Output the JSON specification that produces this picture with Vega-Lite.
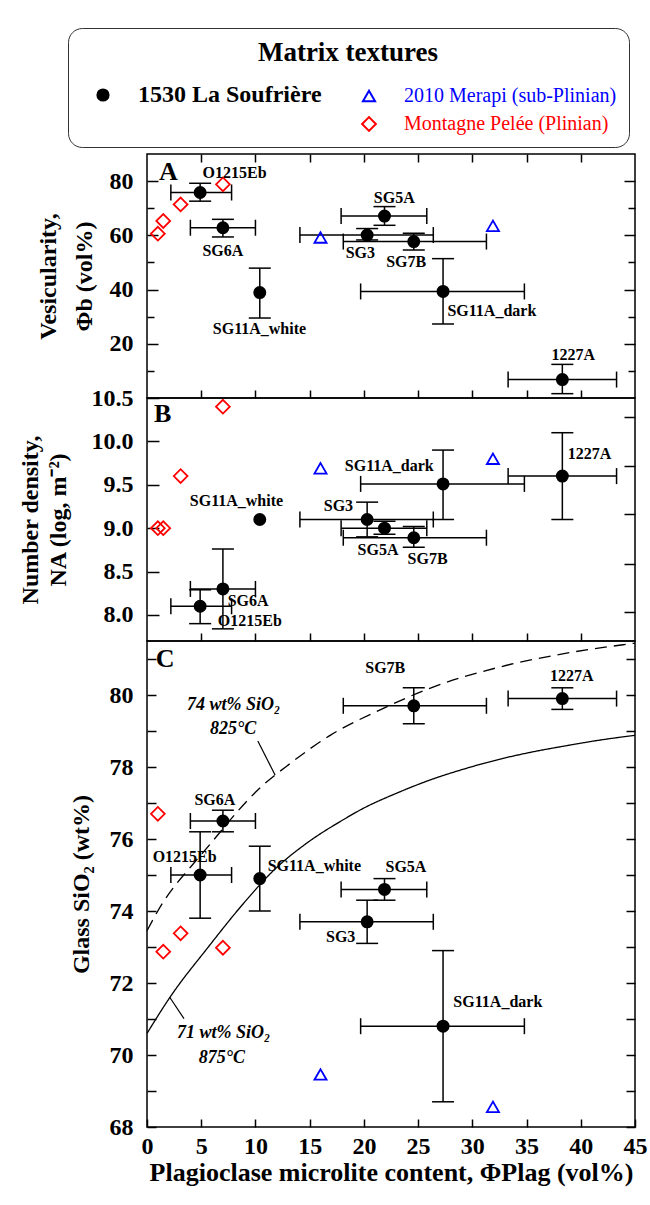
{
"$schema": "https://vega.github.io/schema/vega-lite/v6.json",
"background": "white",
"padding": {"left": 17, "top": 27, "right": 4, "bottom": 10},
"spacing": 0,
"bounds": "flush",
"config": {
  "font": "Liberation Serif",
  "view": {"stroke": "black", "strokeWidth": 1.5},
  "axis": {"grid": false, "domain": false, "tickColor": "black", "tickWidth": 1.5, "labelColor": "black", "titleColor": "black", "labelFont": "Liberation Serif", "titleFont": "Liberation Serif", "labelFontWeight": "bold", "titleFontWeight": "bold", "labelFontSize": 24, "titleFontSize": 24, "labelFlush": false, "labelOverlap": false, "labelBound": false},
  "legend": {"orient": "none", "direction": "horizontal", "columns": 2, "padding": 12, "strokeColor": "#333333", "cornerRadius": 14, "fillColor": "white", "titleFont": "Liberation Serif", "titleFontSize": 27, "titleFontWeight": "bold", "titleColor": "black", "titleAnchor": "middle", "titlePadding": 18, "titleLimit": 500, "labelFont": "Liberation Serif", "labelFontSize": 22, "labelColor": "black", "labelOffset": 25, "labelLimit": 400, "symbolOffset": 13, "symbolStrokeWidth": 2, "columnPadding": 24, "rowPadding": 6, "symbolOpacity": 1}
},
"datasets": {
 "pts": [
  {"group":"1530 La Soufrière","sample":"O1215Eb","x":4.9,"xlo":2.2,"xhi":7.8,"A":75.8,"Alo":72.6,"Ahi":79.2,"B":8.10,"Blo":7.90,"Bhi":8.29,"C":75.0,"Clo":73.8,"Chi":76.2},
  {"group":"1530 La Soufrière","sample":"SG6A","x":7.0,"xlo":4.0,"xhi":10.0,"A":62.8,"Alo":59.4,"Ahi":65.9,"B":8.30,"Blo":7.84,"Bhi":8.76,"C":76.5,"Clo":76.2,"Chi":76.8},
  {"group":"1530 La Soufrière","sample":"SG11A_white","x":10.4,"xlo":null,"xhi":null,"A":38.9,"Alo":29.5,"Ahi":47.9,"B":9.10,"Blo":null,"Bhi":null,"C":74.9,"Clo":74.0,"Chi":75.8},
  {"group":"1530 La Soufrière","sample":"SG3","x":20.3,"xlo":14.1,"xhi":26.4,"A":60.1,"Alo":58.3,"Ahi":62.5,"B":9.10,"Blo":8.90,"Bhi":9.30,"C":73.7,"Clo":73.1,"Chi":74.3},
  {"group":"1530 La Soufrière","sample":"SG5A","x":21.9,"xlo":17.9,"xhi":25.8,"A":67.1,"Alo":63.7,"Ahi":70.6,"B":9.00,"Blo":8.93,"Bhi":9.08,"C":74.6,"Clo":74.3,"Chi":74.9},
  {"group":"1530 La Soufrière","sample":"SG7B","x":24.6,"xlo":18.1,"xhi":31.3,"A":57.7,"Alo":54.6,"Ahi":60.8,"B":8.89,"Blo":8.78,"Bhi":9.02,"C":79.7,"Clo":79.2,"Chi":80.2},
  {"group":"1530 La Soufrière","sample":"SG11A_dark","x":27.3,"xlo":19.7,"xhi":34.8,"A":39.3,"Alo":27.3,"Ahi":51.4,"B":9.51,"Blo":9.10,"Bhi":9.90,"C":70.8,"Clo":68.7,"Chi":72.9},
  {"group":"1530 La Soufrière","sample":"1227A","x":38.3,"xlo":33.3,"xhi":43.3,"A":6.8,"Alo":1.6,"Ahi":12.4,"B":9.60,"Blo":9.10,"Bhi":10.10,"C":79.9,"Clo":79.6,"Chi":80.2},
  {"group":"2010 Merapi (sub-Plinian)","x":16.0,"A":59.2,"B":9.69,"C":69.46},
  {"group":"2010 Merapi (sub-Plinian)","x":31.9,"A":63.5,"B":9.80,"C":68.56},
  {"group":"Montagne Pelée (Plinian)","x":1.0,"A":60.6,"B":9.0,"C":76.7},
  {"group":"Montagne Pelée (Plinian)","x":1.5,"A":65.3,"B":9.0,"C":72.87},
  {"group":"Montagne Pelée (Plinian)","x":3.1,"A":71.4,"B":9.6,"C":73.38},
  {"group":"Montagne Pelée (Plinian)","x":7.0,"A":78.8,"B":10.4,"C":72.98}
 ],
 "labels": [
  {"p":"A","t":"O1215Eb","x":8.07,"y":83.0},
  {"p":"A","t":"SG6A","x":7.0,"y":54.3},
  {"p":"A","t":"SG11A_white","x":10.37,"y":25.5},
  {"p":"A","t":"SG5A","x":22.8,"y":73.9},
  {"p":"A","t":"SG3","x":19.67,"y":53.6},
  {"p":"A","t":"SG7B","x":23.9,"y":50.0},
  {"p":"A","t":"SG11A_dark","x":31.8,"y":32.2},
  {"p":"A","t":"1227A","x":39.3,"y":16.0},
  {"p":"B","t":"SG11A_dark","x":22.34,"y":9.72},
  {"p":"B","t":"1227A","x":40.8,"y":9.85},
  {"p":"B","t":"SG11A_white","x":8.25,"y":9.31},
  {"p":"B","t":"SG3","x":17.65,"y":9.25},
  {"p":"B","t":"SG5A","x":21.3,"y":8.75},
  {"p":"B","t":"SG7B","x":25.87,"y":8.65},
  {"p":"B","t":"SG6A","x":9.33,"y":8.16},
  {"p":"B","t":"O1215Eb","x":9.48,"y":7.93},
  {"p":"C","t":"SG7B","x":21.97,"y":80.74},
  {"p":"C","t":"1227A","x":39.16,"y":80.54},
  {"p":"C","t":"SG6A","x":6.26,"y":77.08},
  {"p":"C","t":"O1215Eb","x":3.47,"y":75.5},
  {"p":"C","t":"SG11A_white","x":15.43,"y":75.26},
  {"p":"C","t":"SG5A","x":23.88,"y":75.23},
  {"p":"C","t":"SG3","x":17.86,"y":73.28},
  {"p":"C","t":"SG11A_dark","x":32.35,"y":71.47}
 ],
 "letters": [
  {"p":"A","t":"A","x":1.1,"y":83.2},
  {"p":"B","t":"B","x":0.65,"y":10.31},
  {"p":"C","t":"C","x":0.8,"y":81.0}
 ],
 "curves": [
  {"s":"71","x":0.0,"v":70.6},
  {"s":"71","x":2.2,"v":71.64},
  {"s":"71","x":5.6,"v":72.98},
  {"s":"71","x":8.7,"v":74.14},
  {"s":"71","x":11.75,"v":75.15},
  {"s":"71","x":14.8,"v":75.9},
  {"s":"71","x":17.9,"v":76.5},
  {"s":"71","x":20.0,"v":76.86},
  {"s":"71","x":23.0,"v":77.27},
  {"s":"71","x":26.2,"v":77.65},
  {"s":"71","x":29.3,"v":77.95},
  {"s":"71","x":32.3,"v":78.2},
  {"s":"71","x":35.4,"v":78.41},
  {"s":"71","x":38.45,"v":78.58},
  {"s":"71","x":41.6,"v":78.74},
  {"s":"71","x":45.0,"v":78.88},
  {"s":"74","x":0.0,"v":73.45},
  {"s":"74","x":1.5,"v":74.25},
  {"s":"74","x":2.7,"v":74.75},
  {"s":"74","x":4.1,"v":75.25},
  {"s":"74","x":5.8,"v":75.85},
  {"s":"74","x":8.3,"v":76.75},
  {"s":"74","x":10.0,"v":77.3},
  {"s":"74","x":13.3,"v":78.12},
  {"s":"74","x":17.0,"v":78.9},
  {"s":"74","x":21.6,"v":79.6},
  {"s":"74","x":26.2,"v":80.2},
  {"s":"74","x":32.3,"v":80.76},
  {"s":"74","x":38.45,"v":81.15},
  {"s":"74","x":44.0,"v":81.4},
  {"s":"74","x":45.0,"v":81.44}
 ],
 "notes": [
  {"t":"74 wt% SiO₂","x":7.98,"y":79.72},
  {"t":"825°C","x":7.95,"y":79.05},
  {"t":"71 wt% SiO₂","x":7.06,"y":70.61},
  {"t":"875°C","x":6.9,"y":69.93}
 ],
 "leaders": [
  {"x":10.22,"y":78.72,"x2":11.81,"y2":77.78},
  {"x":2.08,"y":71.61,"x2":3.41,"y2":71.01}
 ]
},
"vconcat": [
 {
  "width": 488, "height": 244,
  "resolve": {"axis": {"x": "independent", "y": "independent"}},
  "layer": [
   {"data": {"name": "pts"}, "transform": [{"filter": "isValid(datum.xlo)"}],
    "mark": {"type": "rule", "color": "black", "strokeWidth": 1.5},
    "encoding": {
     "x": {"field": "xlo", "type": "quantitative", "scale": {"domain": [0, 45], "nice": false}, "axis": {"orient": "bottom", "values": [5,10,15,20,25,30,35,40], "labels": false, "title": null, "tickSize": -8}},
     "x2": {"field": "xhi"},
     "y": {"field": "A", "type": "quantitative", "scale": {"domain": [0, 90], "nice": false}, "axis": {"orient": "left", "values": [10,20,30,40,50,60,70,80], "labelExpr": "datum.value % 20 === 0 ? datum.label : ''", "tickSize": {"condition": {"test": "datum.value % 20 === 0", "value": -11}, "value": -7}, "labelPadding": 25, "title": ["Vesicularity,", "Φb (vol%)"], "titlePadding": 13, "titleLineHeight": 36}}
    }},
   {"data": {"name": "pts"}, "transform": [{"filter": "isValid(datum.Alo)"}],
    "mark": {"type": "rule", "color": "black", "strokeWidth": 1.5},
    "encoding": {
     "x": {"field": "x", "type": "quantitative", "scale": {"domain": [0, 45], "nice": false}, "axis": {"orient": "top", "values": [5,10,15,20,25,30,35,40], "labels": false, "title": null, "tickSize": -8}},
     "y": {"field": "Alo", "type": "quantitative", "scale": {"domain": [0, 90], "nice": false}, "axis": {"orient": "right", "values": [10,20,30,40,50,60,70,80], "labels": false, "title": null, "tickSize": {"condition": {"test": "datum.value % 20 === 0", "value": -11}, "value": -7}}},
     "y2": {"field": "Ahi"}
    }},
   {"data": {"name": "pts"}, "transform": [{"filter": "isValid(datum.xlo)"}],
    "mark": {"type": "tick", "orient": "vertical", "size": 16, "thickness": 1.5, "color": "black", "opacity": 1},
    "encoding": {
     "x": {"field": "xlo", "type": "quantitative", "scale": {"domain": [0, 45], "nice": false}, "axis": null},
     "y": {"field": "A", "type": "quantitative", "scale": {"domain": [0, 90], "nice": false}, "axis": null}
    }},
   {"data": {"name": "pts"}, "transform": [{"filter": "isValid(datum.xhi)"}],
    "mark": {"type": "tick", "orient": "vertical", "size": 16, "thickness": 1.5, "color": "black", "opacity": 1},
    "encoding": {
     "x": {"field": "xhi", "type": "quantitative", "scale": {"domain": [0, 45], "nice": false}, "axis": null},
     "y": {"field": "A", "type": "quantitative", "scale": {"domain": [0, 90], "nice": false}, "axis": null}
    }},
   {"data": {"name": "pts"}, "transform": [{"filter": "isValid(datum.Alo)"}],
    "mark": {"type": "tick", "orient": "horizontal", "size": 22, "thickness": 1.5, "color": "black", "opacity": 1},
    "encoding": {
     "x": {"field": "x", "type": "quantitative", "scale": {"domain": [0, 45], "nice": false}, "axis": null},
     "y": {"field": "Alo", "type": "quantitative", "scale": {"domain": [0, 90], "nice": false}, "axis": null}
    }},
   {"data": {"name": "pts"}, "transform": [{"filter": "isValid(datum.Ahi)"}],
    "mark": {"type": "tick", "orient": "horizontal", "size": 22, "thickness": 1.5, "color": "black", "opacity": 1},
    "encoding": {
     "x": {"field": "x", "type": "quantitative", "scale": {"domain": [0, 45], "nice": false}, "axis": null},
     "y": {"field": "Ahi", "type": "quantitative", "scale": {"domain": [0, 90], "nice": false}, "axis": null}
    }},
   {"data": {"name": "pts"},
    "mark": {"type": "point", "strokeWidth": 1.8, "opacity": 1},
    "encoding": {
     "x": {"field": "x", "type": "quantitative", "scale": {"domain": [0, 45], "nice": false}, "axis": null},
     "y": {"field": "A", "type": "quantitative", "scale": {"domain": [0, 90], "nice": false}, "axis": null},
     "shape": {"field": "group", "type": "nominal", "scale": {"domain": ["1530 La Soufrière", "2010 Merapi (sub-Plinian)", " ", "Montagne Pelée (Plinian)"], "range": ["circle", "triangle-up", "circle", "diamond"]},
       "legend": {"title": "Matrix textures", "orient": "none", "legendX": -79, "legendY": -126, "direction": "horizontal", "columns": 2,
         "encode": {"labels": {"update": {"fill": {"signal": "datum.label === '2010 Merapi (sub-Plinian)' ? '#0000ff' : (datum.label === 'Montagne Pelée (Plinian)' ? '#ff0000' : '#000000')"}, "fontWeight": {"signal": "datum.label === '1530 La Soufrière' ? 'bold' : 'normal'"}, "fontSize": {"signal": "datum.label === '1530 La Soufrière' ? 24 : 20"}}}}}},
     "stroke": {"field": "group", "type": "nominal", "scale": {"domain": ["1530 La Soufrière", "2010 Merapi (sub-Plinian)", " ", "Montagne Pelée (Plinian)"], "range": ["#000000", "#0000ff", "transparent", "#ff0000"]},
       "legend": {"title": "Matrix textures", "orient": "none", "legendX": -79, "legendY": -126, "direction": "horizontal", "columns": 2,
         "encode": {"labels": {"update": {"fill": {"signal": "datum.label === '2010 Merapi (sub-Plinian)' ? '#0000ff' : (datum.label === 'Montagne Pelée (Plinian)' ? '#ff0000' : '#000000')"}, "fontWeight": {"signal": "datum.label === '1530 La Soufrière' ? 'bold' : 'normal'"}, "fontSize": {"signal": "datum.label === '1530 La Soufrière' ? 24 : 20"}}}}}},
     "fill": {"field": "group", "type": "nominal", "scale": {"domain": ["1530 La Soufrière", "2010 Merapi (sub-Plinian)", " ", "Montagne Pelée (Plinian)"], "range": ["#000000", "transparent", "transparent", "transparent"]},
       "legend": {"title": "Matrix textures", "orient": "none", "legendX": -79, "legendY": -126, "direction": "horizontal", "columns": 2,
         "encode": {"labels": {"update": {"fill": {"signal": "datum.label === '2010 Merapi (sub-Plinian)' ? '#0000ff' : (datum.label === 'Montagne Pelée (Plinian)' ? '#ff0000' : '#000000')"}, "fontWeight": {"signal": "datum.label === '1530 La Soufrière' ? 'bold' : 'normal'"}, "fontSize": {"signal": "datum.label === '1530 La Soufrière' ? 24 : 20"}}}}}},
     "size": {"field": "group", "type": "ordinal", "scale": {"domain": ["1530 La Soufrière", "2010 Merapi (sub-Plinian)", " ", "Montagne Pelée (Plinian)"], "range": [125, 190, 10, 120]},
       "legend": {"title": "Matrix textures", "orient": "none", "legendX": -79, "legendY": -126, "direction": "horizontal", "columns": 2,
         "encode": {"labels": {"update": {"fill": {"signal": "datum.label === '2010 Merapi (sub-Plinian)' ? '#0000ff' : (datum.label === 'Montagne Pelée (Plinian)' ? '#ff0000' : '#000000')"}, "fontWeight": {"signal": "datum.label === '1530 La Soufrière' ? 'bold' : 'normal'"}, "fontSize": {"signal": "datum.label === '1530 La Soufrière' ? 24 : 20"}}}}}}
    }},
   {"data": {"name": "labels"}, "transform": [{"filter": "datum.p === 'A'"}],
    "mark": {"type": "text", "font": "Liberation Serif", "fontWeight": "bold", "fontSize": 16, "color": "black", "align": "center", "baseline": "middle"},
    "encoding": {
     "x": {"field": "x", "type": "quantitative", "scale": {"domain": [0, 45], "nice": false}, "axis": null},
     "y": {"field": "y", "type": "quantitative", "scale": {"domain": [0, 90], "nice": false}, "axis": null},
     "text": {"field": "t"}
    }},
   {"data": {"name": "letters"}, "transform": [{"filter": "datum.p === 'A'"}],
    "mark": {"type": "text", "font": "Liberation Serif", "fontWeight": "bold", "fontSize": 26, "color": "black", "align": "left", "baseline": "middle"},
    "encoding": {
     "x": {"field": "x", "type": "quantitative", "scale": {"domain": [0, 45], "nice": false}, "axis": null},
     "y": {"field": "y", "type": "quantitative", "scale": {"domain": [0, 90], "nice": false}, "axis": null},
     "text": {"field": "t"}
    }}
  ]
 },
 {
  "width": 488, "height": 243,
  "resolve": {"axis": {"x": "independent", "y": "independent"}},
  "layer": [
   {"data": {"name": "pts"}, "transform": [{"filter": "isValid(datum.xlo)"}],
    "mark": {"type": "rule", "color": "black", "strokeWidth": 1.5},
    "encoding": {
     "x": {"field": "xlo", "type": "quantitative", "scale": {"domain": [0, 45], "nice": false}, "axis": {"orient": "bottom", "values": [5,10,15,20,25,30,35,40], "labels": false, "title": null, "tickSize": -8}},
     "x2": {"field": "xhi"},
     "y": {"field": "B", "type": "quantitative", "scale": {"domain": [7.7, 10.5], "nice": false, "zero": false}, "axis": {"orient": "left", "values": [8.0, 8.5, 9.0, 9.5, 10.0, 10.5], "format": ".1f", "tickSize": -12, "labelPadding": 26, "title": ["Number density,", "NA (log, m⁻²)"], "titlePadding": 21, "titleLineHeight": 28}}
    }},
   {"data": {"name": "pts"}, "transform": [{"filter": "isValid(datum.Blo)"}],
    "mark": {"type": "rule", "color": "black", "strokeWidth": 1.5},
    "encoding": {
     "x": {"field": "x", "type": "quantitative", "scale": {"domain": [0, 45], "nice": false}, "axis": null},
     "y": {"field": "Blo", "type": "quantitative", "scale": {"domain": [7.7, 10.5], "nice": false, "zero": false}, "axis": {"orient": "right", "values": [8.03, 8.59, 9.16, 9.72, 10.28], "labels": false, "title": null, "tickSize": -11}},
     "y2": {"field": "Bhi"}
    }},
   {"data": {"name": "pts"}, "transform": [{"filter": "isValid(datum.xlo)"}],
    "mark": {"type": "tick", "orient": "vertical", "size": 16, "thickness": 1.5, "color": "black", "opacity": 1},
    "encoding": {
     "x": {"field": "xlo", "type": "quantitative", "scale": {"domain": [0, 45], "nice": false}, "axis": null},
     "y": {"field": "B", "type": "quantitative", "scale": {"domain": [7.7, 10.5], "nice": false, "zero": false}, "axis": null}
    }},
   {"data": {"name": "pts"}, "transform": [{"filter": "isValid(datum.xhi)"}],
    "mark": {"type": "tick", "orient": "vertical", "size": 16, "thickness": 1.5, "color": "black", "opacity": 1},
    "encoding": {
     "x": {"field": "xhi", "type": "quantitative", "scale": {"domain": [0, 45], "nice": false}, "axis": null},
     "y": {"field": "B", "type": "quantitative", "scale": {"domain": [7.7, 10.5], "nice": false, "zero": false}, "axis": null}
    }},
   {"data": {"name": "pts"}, "transform": [{"filter": "isValid(datum.Blo)"}],
    "mark": {"type": "tick", "orient": "horizontal", "size": 22, "thickness": 1.5, "color": "black", "opacity": 1},
    "encoding": {
     "x": {"field": "x", "type": "quantitative", "scale": {"domain": [0, 45], "nice": false}, "axis": null},
     "y": {"field": "Blo", "type": "quantitative", "scale": {"domain": [7.7, 10.5], "nice": false, "zero": false}, "axis": null}
    }},
   {"data": {"name": "pts"}, "transform": [{"filter": "isValid(datum.Bhi)"}],
    "mark": {"type": "tick", "orient": "horizontal", "size": 22, "thickness": 1.5, "color": "black", "opacity": 1},
    "encoding": {
     "x": {"field": "x", "type": "quantitative", "scale": {"domain": [0, 45], "nice": false}, "axis": null},
     "y": {"field": "Bhi", "type": "quantitative", "scale": {"domain": [7.7, 10.5], "nice": false, "zero": false}, "axis": null}
    }},
   {"data": {"name": "pts"},
    "mark": {"type": "point", "strokeWidth": 1.8, "opacity": 1},
    "encoding": {
     "x": {"field": "x", "type": "quantitative", "scale": {"domain": [0, 45], "nice": false}, "axis": null},
     "y": {"field": "B", "type": "quantitative", "scale": {"domain": [7.7, 10.5], "nice": false, "zero": false}, "axis": null},
     "shape": {"field": "group", "type": "nominal", "scale": {"domain": ["1530 La Soufrière", "2010 Merapi (sub-Plinian)", " ", "Montagne Pelée (Plinian)"], "range": ["circle", "triangle-up", "circle", "diamond"]}, "legend": null},
     "stroke": {"field": "group", "type": "nominal", "scale": {"domain": ["1530 La Soufrière", "2010 Merapi (sub-Plinian)", " ", "Montagne Pelée (Plinian)"], "range": ["#000000", "#0000ff", "transparent", "#ff0000"]}, "legend": null},
     "fill": {"field": "group", "type": "nominal", "scale": {"domain": ["1530 La Soufrière", "2010 Merapi (sub-Plinian)", " ", "Montagne Pelée (Plinian)"], "range": ["#000000", "transparent", "transparent", "transparent"]}, "legend": null},
     "size": {"field": "group", "type": "ordinal", "scale": {"domain": ["1530 La Soufrière", "2010 Merapi (sub-Plinian)", " ", "Montagne Pelée (Plinian)"], "range": [125, 190, 10, 120]}, "legend": null}
    }},
   {"data": {"name": "labels"}, "transform": [{"filter": "datum.p === 'B'"}],
    "mark": {"type": "text", "font": "Liberation Serif", "fontWeight": "bold", "fontSize": 16, "color": "black", "align": "center", "baseline": "middle"},
    "encoding": {
     "x": {"field": "x", "type": "quantitative", "scale": {"domain": [0, 45], "nice": false}, "axis": null},
     "y": {"field": "y", "type": "quantitative", "scale": {"domain": [7.7, 10.5], "nice": false, "zero": false}, "axis": null},
     "text": {"field": "t"}
    }},
   {"data": {"name": "letters"}, "transform": [{"filter": "datum.p === 'B'"}],
    "mark": {"type": "text", "font": "Liberation Serif", "fontWeight": "bold", "fontSize": 26, "color": "black", "align": "left", "baseline": "middle"},
    "encoding": {
     "x": {"field": "x", "type": "quantitative", "scale": {"domain": [0, 45], "nice": false}, "axis": null},
     "y": {"field": "y", "type": "quantitative", "scale": {"domain": [7.7, 10.5], "nice": false, "zero": false}, "axis": null},
     "text": {"field": "t"}
    }}
  ]
 },
 {
  "width": 488, "height": 486,
  "resolve": {"axis": {"x": "independent", "y": "independent"}},
  "layer": [
   {"data": {"name": "curves"},
    "mark": {"type": "line", "color": "black", "strokeWidth": 1.3, "interpolate": "monotone"},
    "encoding": {
     "x": {"field": "x", "type": "quantitative", "scale": {"domain": [0, 45], "nice": false}, "axis": {"orient": "bottom", "values": [0,5,10,15,20,25,30,35,40,45], "tickSize": -8, "labelPadding": 15, "title": "Plagioclase microlite content, ΦPlag (vol%)", "titleFontSize": 26, "titlePadding": 1}},
     "y": {"field": "v", "type": "quantitative", "scale": {"domain": [68, 81.5], "nice": false, "zero": false}, "axis": {"orient": "left", "values": [68,69,70,71,72,73,74,75,76,77,78,79,80,81], "labelExpr": "datum.value % 2 === 0 ? datum.label : ''", "tickSize": -9, "labelPadding": 23, "title": "Glass SiO₂ (wt%)", "titlePadding": 16}},
     "strokeDash": {"field": "s", "type": "nominal", "scale": {"domain": ["74", "71"], "range": [[12, 7], [1, 0]]}, "legend": null}
    }},
   {"data": {"name": "pts"}, "transform": [{"filter": "isValid(datum.Clo)"}],
    "mark": {"type": "rule", "color": "black", "strokeWidth": 1.5},
    "encoding": {
     "x": {"field": "x", "type": "quantitative", "scale": {"domain": [0, 45], "nice": false}, "axis": null},
     "y": {"field": "Clo", "type": "quantitative", "scale": {"domain": [68, 81.5], "nice": false, "zero": false}, "axis": {"orient": "right", "values": [68,69,70,71,72,73,74,75,76,77,78,79,80,81], "labels": false, "title": null, "tickSize": -9}},
     "y2": {"field": "Chi"}
    }},
   {"data": {"name": "pts"}, "transform": [{"filter": "isValid(datum.xlo)"}],
    "mark": {"type": "rule", "color": "black", "strokeWidth": 1.5},
    "encoding": {
     "x": {"field": "xlo", "type": "quantitative", "scale": {"domain": [0, 45], "nice": false}, "axis": null},
     "x2": {"field": "xhi"},
     "y": {"field": "C", "type": "quantitative", "scale": {"domain": [68, 81.5], "nice": false, "zero": false}, "axis": null}
    }},
   {"data": {"name": "pts"}, "transform": [{"filter": "isValid(datum.xlo)"}],
    "mark": {"type": "tick", "orient": "vertical", "size": 16, "thickness": 1.5, "color": "black", "opacity": 1},
    "encoding": {
     "x": {"field": "xlo", "type": "quantitative", "scale": {"domain": [0, 45], "nice": false}, "axis": null},
     "y": {"field": "C", "type": "quantitative", "scale": {"domain": [68, 81.5], "nice": false, "zero": false}, "axis": null}
    }},
   {"data": {"name": "pts"}, "transform": [{"filter": "isValid(datum.xhi)"}],
    "mark": {"type": "tick", "orient": "vertical", "size": 16, "thickness": 1.5, "color": "black", "opacity": 1},
    "encoding": {
     "x": {"field": "xhi", "type": "quantitative", "scale": {"domain": [0, 45], "nice": false}, "axis": null},
     "y": {"field": "C", "type": "quantitative", "scale": {"domain": [68, 81.5], "nice": false, "zero": false}, "axis": null}
    }},
   {"data": {"name": "pts"}, "transform": [{"filter": "isValid(datum.Clo)"}],
    "mark": {"type": "tick", "orient": "horizontal", "size": 22, "thickness": 1.5, "color": "black", "opacity": 1},
    "encoding": {
     "x": {"field": "x", "type": "quantitative", "scale": {"domain": [0, 45], "nice": false}, "axis": null},
     "y": {"field": "Clo", "type": "quantitative", "scale": {"domain": [68, 81.5], "nice": false, "zero": false}, "axis": null}
    }},
   {"data": {"name": "pts"}, "transform": [{"filter": "isValid(datum.Chi)"}],
    "mark": {"type": "tick", "orient": "horizontal", "size": 22, "thickness": 1.5, "color": "black", "opacity": 1},
    "encoding": {
     "x": {"field": "x", "type": "quantitative", "scale": {"domain": [0, 45], "nice": false}, "axis": null},
     "y": {"field": "Chi", "type": "quantitative", "scale": {"domain": [68, 81.5], "nice": false, "zero": false}, "axis": null}
    }},
   {"data": {"name": "pts"},
    "mark": {"type": "point", "strokeWidth": 1.8, "opacity": 1},
    "encoding": {
     "x": {"field": "x", "type": "quantitative", "scale": {"domain": [0, 45], "nice": false}, "axis": null},
     "y": {"field": "C", "type": "quantitative", "scale": {"domain": [68, 81.5], "nice": false, "zero": false}, "axis": null},
     "shape": {"field": "group", "type": "nominal", "scale": {"domain": ["1530 La Soufrière", "2010 Merapi (sub-Plinian)", " ", "Montagne Pelée (Plinian)"], "range": ["circle", "triangle-up", "circle", "diamond"]}, "legend": null},
     "stroke": {"field": "group", "type": "nominal", "scale": {"domain": ["1530 La Soufrière", "2010 Merapi (sub-Plinian)", " ", "Montagne Pelée (Plinian)"], "range": ["#000000", "#0000ff", "transparent", "#ff0000"]}, "legend": null},
     "fill": {"field": "group", "type": "nominal", "scale": {"domain": ["1530 La Soufrière", "2010 Merapi (sub-Plinian)", " ", "Montagne Pelée (Plinian)"], "range": ["#000000", "transparent", "transparent", "transparent"]}, "legend": null},
     "size": {"field": "group", "type": "ordinal", "scale": {"domain": ["1530 La Soufrière", "2010 Merapi (sub-Plinian)", " ", "Montagne Pelée (Plinian)"], "range": [125, 190, 10, 120]}, "legend": null}
    }},
   {"data": {"name": "labels"}, "transform": [{"filter": "datum.p === 'C'"}],
    "mark": {"type": "text", "font": "Liberation Serif", "fontWeight": "bold", "fontSize": 16, "color": "black", "align": "center", "baseline": "middle"},
    "encoding": {
     "x": {"field": "x", "type": "quantitative", "scale": {"domain": [0, 45], "nice": false}, "axis": null},
     "y": {"field": "y", "type": "quantitative", "scale": {"domain": [68, 81.5], "nice": false, "zero": false}, "axis": null},
     "text": {"field": "t"}
    }},
   {"data": {"name": "letters"}, "transform": [{"filter": "datum.p === 'C'"}],
    "mark": {"type": "text", "font": "Liberation Serif", "fontWeight": "bold", "fontSize": 26, "color": "black", "align": "left", "baseline": "middle"},
    "encoding": {
     "x": {"field": "x", "type": "quantitative", "scale": {"domain": [0, 45], "nice": false}, "axis": null},
     "y": {"field": "y", "type": "quantitative", "scale": {"domain": [68, 81.5], "nice": false, "zero": false}, "axis": null},
     "text": {"field": "t"}
    }},
   {"data": {"name": "notes"},
    "mark": {"type": "text", "font": "Liberation Serif", "fontWeight": "bold", "fontStyle": "italic", "fontSize": 18, "color": "black", "align": "center", "baseline": "middle"},
    "encoding": {
     "x": {"field": "x", "type": "quantitative", "scale": {"domain": [0, 45], "nice": false}, "axis": null},
     "y": {"field": "y", "type": "quantitative", "scale": {"domain": [68, 81.5], "nice": false, "zero": false}, "axis": null},
     "text": {"field": "t"}
    }},
   {"data": {"name": "leaders"},
    "mark": {"type": "rule", "color": "black", "strokeWidth": 1.2},
    "encoding": {
     "x": {"field": "x", "type": "quantitative", "scale": {"domain": [0, 45], "nice": false}, "axis": null},
     "y": {"field": "y", "type": "quantitative", "scale": {"domain": [68, 81.5], "nice": false, "zero": false}, "axis": null},
     "x2": {"field": "x2"},
     "y2": {"field": "y2"}
    }}
  ]
 }
]
}
